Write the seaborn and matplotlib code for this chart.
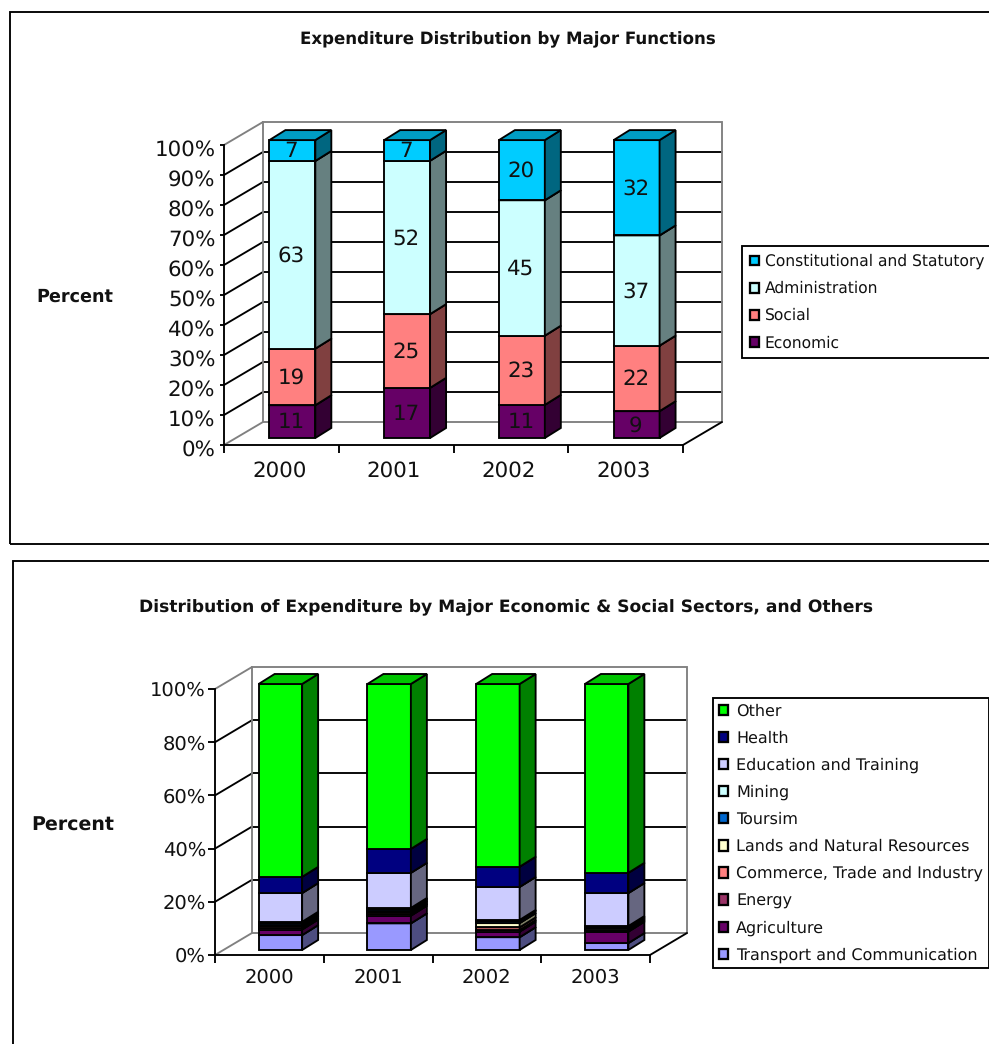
import matplotlib
matplotlib.use("Agg")
import matplotlib.pyplot as plt
import seaborn as sns
import numpy as np
from matplotlib.patches import Polygon, Rectangle, Patch
from matplotlib.colors import to_rgb
from matplotlib.transforms import IdentityTransform, ScaledTranslation

years = ["2000", "2001", "2002", "2003"]

# Chart 1: labelled percentages
economic = [11, 17, 11, 9]
social = [19, 25, 23, 22]
administration = [63, 52, 45, 37]
constitutional = [7, 7, 20, 32]
names1 = ["Economic", "Social", "Administration", "Constitutional and Statutory"]
colors1 = ["#660066", "#FF8080", "#CCFFFF", "#00CCFF"]
ticks1 = list(range(0, 101, 10))

# Chart 2: percentages
transport = [5.6, 10.0, 4.8, 2.6]
agriculture = [2.1, 2.9, 2.1, 4.3]
energy = [0.6, 0.6, 0.6, 0.4]
commerce = [0.6, 0.6, 1.0, 0.4]
lands = [0.6, 0.6, 1.6, 0.4]
tourism = [0.6, 0.6, 0.9, 0.4]
mining = [0.5, 0.5, 0.3, 0.5]
education = [10.8, 13.2, 12.4, 12.4]
health = [6.1, 9.0, 7.6, 7.6]
other = [72.5, 62.0, 68.7, 71.0]
names2 = ["Transport and Communication", "Agriculture", "Energy",
          "Commerce, Trade and Industry", "Lands and Natural Resources",
          "Toursim", "Mining", "Education and Training", "Health", "Other"]
colors2 = ["#9999FF", "#660066", "#993366", "#FF8080", "#FFFFCC",
           "#0066CC", "#CCFFFF", "#CCCCFF", "#000080", "#00FF00"]
ticks2 = list(range(0, 101, 20))

W, H = 989, 1044
sns.set_theme(style="white")
plt.rcParams["font.family"] = ["DejaVu Sans"]
plt.rcParams["text.hinting"] = "no_hinting"
fig = plt.figure(figsize=(W / 100, H / 100), dpi=100, facecolor="white")
LW = 1.35
GRAY = "#808080"


def shade(c, f):
    return tuple(v * f for v in to_rgb(c))


def frame(x0, y0, x1, y1):
    fig.add_artist(Rectangle((x0, H - y1), x1 - x0, y1 - y0, transform=IdentityTransform(),
                             fill=False, edgecolor="black", linewidth=LW))


def chart(box, bar_off, bar_scale, back_off, depth, series, names, colors, ticks, tick_fs,
          show_labels, title, title_xy, title_fs, ylab_xy, ylab_fs,
          leg_xy, leg_fs, leg_space, leg_pad, leg_gap, tick_len, ylab_shift, xlab_shift, xpad, ypad):
    x0, x1, ytop, ybot = box
    ax = fig.add_axes([x0 / W, 1 - ybot / H, (x1 - x0) / W, (ybot - ytop) / H])
    ax.patch.set_alpha(0)
    ux = 4 / (x1 - x0)
    uy = 100 / (ybot - ytop)
    bx, by = bar_off[0] * ux, bar_off[1] * uy
    wx, wy = back_off[0] * ux, back_off[1] * uy
    dx, dy = depth[0] * ux, depth[1] * uy
    L, R = -0.5, 3.5

    # walls and gridlines
    for t in ticks:
        c = GRAY if t in (0, 100) else "black"
        ax.plot([L, L + wx], [t, t + wy], color=c, lw=LW, clip_on=False, zorder=1)
        if 0 < t < 100:
            ax.plot([L + wx, R + wx], [t + wy, t + wy], color="black", lw=LW, clip_on=False, zorder=1)
    ax.add_patch(Rectangle((L + wx, wy), 4, 100, fill=False, edgecolor=GRAY, lw=LW,
                           clip_on=False, zorder=1))
    ax.plot([R, R + wx], [0, wy], color="black", lw=LW, clip_on=False, zorder=1)

    # stacked bars
    totals = np.sum(series, axis=0)
    bottom = np.zeros(4)
    for vals, name, col in zip(series, names, colors):
        h = np.array(vals, float) / totals * 100 * bar_scale
        sns.barplot(x=years, y=h, bottom=bottom, color=col, saturation=1, width=0.4, ax=ax,
                    edgecolor="black", linewidth=LW, zorder=3)
        for i, bar in enumerate(ax.containers[-1]):
            bar.set_x(bar.get_x() + bx)
            bar.set_y(bar.get_y() + by)
            bar.set_clip_on(False)
            xa, xb = bar.get_x(), bar.get_x() + bar.get_width()
            ya, yb = bar.get_y(), bar.get_y() + bar.get_height()
            ax.add_patch(Polygon([(xb, ya), (xb + dx, ya + dy), (xb + dx, yb + dy), (xb, yb)],
                                 facecolor=shade(col, 0.5), edgecolor="black", lw=LW,
                                 clip_on=False, zorder=3))
            ax.add_patch(Polygon([(xa, yb), (xb, yb), (xb + dx, yb + dy), (xa + dx, yb + dy)],
                                 facecolor=shade(col, 0.77), edgecolor="black", lw=LW,
                                 clip_on=False, zorder=3))
            if show_labels:
                ax.text((xa + xb) / 2 - 1 * ux, (ya + yb) / 2 - 1 * uy, str(vals[i]), ha="center",
                        va="center", fontsize=tick_fs, color="#111111", zorder=5)
        bottom = bottom + h

    ax.set_xlim(L, R)
    ax.set_ylim(0, 100)
    ax.set_xlabel("")
    ax.set_ylabel("")
    ax.set_xticks([i + xlab_shift * ux for i in range(4)])
    ax.set_xticklabels(years, fontsize=tick_fs, color="#111111")
    ax.set_xticks([L, 0.5, 1.5, 2.5, R], minor=True)
    ax.tick_params(axis="x", which="major", length=0, pad=xpad, bottom=False)
    ax.tick_params(axis="x", which="minor", length=6, width=LW, color="black", bottom=True)
    ax.set_yticks(ticks)
    ax.set_yticklabels([f"{t}%" for t in ticks], fontsize=tick_fs, color="#111111")
    ax.tick_params(axis="y", length=tick_len, width=LW, color="black", pad=ypad, left=True)
    shift = ScaledTranslation(0, -ylab_shift / 100, fig.dpi_scale_trans)
    for lab in ax.get_yticklabels():
        lab.set_transform(lab.get_transform() + shift)
    for s in ("top", "right"):
        ax.spines[s].set_visible(False)
    for s in ("left", "bottom"):
        ax.spines[s].set_color("black")
        ax.spines[s].set_linewidth(LW)
    ax.spines["left"].set_zorder(2)

    fig.text(title_xy[0] / W, 1 - title_xy[1] / H, title, ha="center", va="center",
             fontsize=title_fs, fontweight="bold", color="#111111")
    fig.text(ylab_xy[0] / W, 1 - ylab_xy[1] / H, "Percent", ha="center", va="center",
             fontsize=ylab_fs, fontweight="bold", color="#111111")
    handles = [Patch(facecolor=c, edgecolor="black", linewidth=LW + 0.3) for c in colors][::-1]
    leg = fig.legend(handles, names[::-1], loc="upper left",
                     bbox_to_anchor=(leg_xy[0] / W, 1 - leg_xy[1] / H),
                     bbox_transform=fig.transFigure, fontsize=leg_fs, frameon=True,
                     fancybox=False, edgecolor="black", facecolor="white", framealpha=1,
                     labelspacing=leg_space, handlelength=0.6, handleheight=0.6,
                     handletextpad=leg_gap, borderpad=leg_pad, borderaxespad=0, labelcolor="#111111")
    leg.get_frame().set_linewidth(LW)


frame(10, 12, 1010, 544)
frame(13, 561, 1010, 1070)

chart((224, 683, 145, 445), (11, 7), 0.993, (39, 23), (16, 10),
      [economic, social, administration, constitutional], names1, colors1, ticks1, 15.4,
      True, "Expenditure Distribution by Major Functions", (508, 40), 12.0,
      (75, 297), 12.7, (742, 246), 11.2, 0.75, 0.5, 0.35, 3, 3, -2, 11.5, 3.2)

chart((215, 650, 689, 955), (11, 5), 1.0, (37, 22), (16, 10),
      [transport, agriculture, energy, commerce, lands, tourism, mining, education, health, other],
      names2, colors2, ticks2, 14,
      False, "Distribution of Expenditure by Major Economic & Social Sectors, and Others",
      (506, 608), 12.35, (73, 825), 13.7, (713, 698), 11.5, 0.725, 0.35, 0.5, 5, 0, 0, 9.5, 1.5)

fig.savefig("out.png", dpi=100, facecolor="white")
